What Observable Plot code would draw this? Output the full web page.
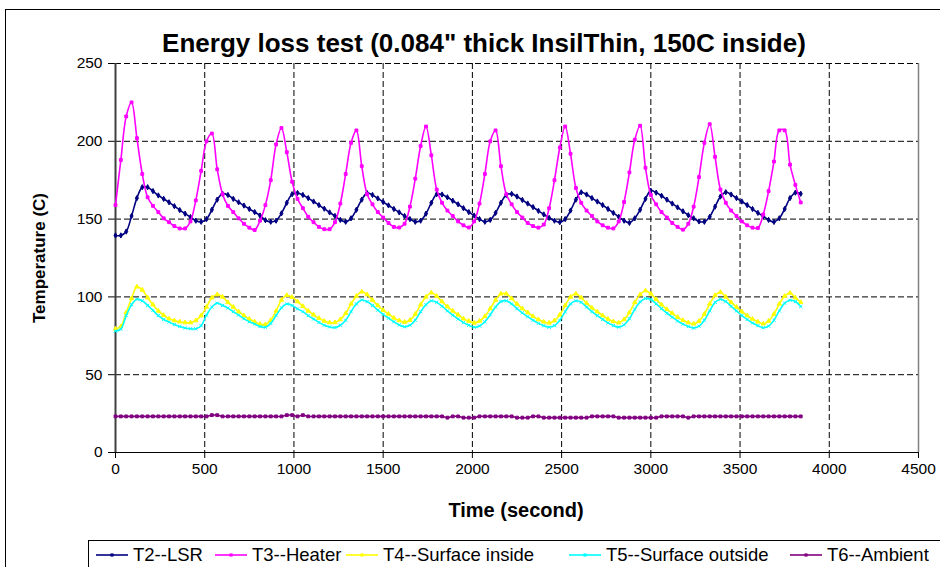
<!DOCTYPE html>
<html><head><meta charset="utf-8">
<script src="https://cdn.jsdelivr.net/npm/d3@7"></script>
<script src="https://cdn.jsdelivr.net/npm/@observablehq/plot@0.6"></script>
<style>
body{margin:0;background:#fff;font-family:"Liberation Sans",Arial,sans-serif;}
#wrap{position:relative;width:940px;height:567px;overflow:hidden;background:#fff;}
#frame{position:absolute;left:5px;top:9px;width:960px;height:600px;border:1px solid #000;}
#title{position:absolute;top:28px;left:14px;width:940px;text-align:center;font-weight:bold;font-size:26px;color:#000;white-space:nowrap;}
#ylab{position:absolute;left:40px;top:258px;transform:translate(-50%,-50%) rotate(-90deg);font-weight:bold;font-size:17px;white-space:nowrap;}
#xlab{position:absolute;left:516px;top:510px;transform:translate(-50%,-50%);font-weight:bold;font-size:20px;white-space:nowrap;}
#chart{position:absolute;left:0;top:0;}
#legend{position:absolute;left:88px;top:540px;width:900px;height:40px;border:1px solid #000;background:#fff;}
.item{position:absolute;top:3px;display:flex;align-items:center;font-size:18.5px;white-space:nowrap;}
.item svg{margin-right:5px;}
</style>
</head><body>
<div id="wrap">
  <div id="frame"></div>
  <div id="chart"></div>
  <div id="title"></div>
  <div id="ylab">Temperature (C)</div>
  <div id="xlab">Time (second)</div>
  <div id="legend"></div>
</div>
<script>
const titleText = "Energy loss test (0.084\" thick InsilThin, 150C inside)";
const seriesNames = ["T2--LSR", "T3--Heater", "T4--Surface inside", "T5--Surface outside", "T6--Ambient"];
const seriesColors = ["#000080", "#FF00FF", "#FFFF00", "#00FFFF", "#800080"];
const seriesSymbols = ["diamond", "square", "triangle", "times", "square"];
const xTicks = [0, 500, 1000, 1500, 2000, 2500, 3000, 3500, 4000, 4500];
const yTicks = [0, 50, 100, 150, 200, 250];
// sample times (s), every 30 s from 0 to 3840
const time = d3.range(0, 3841, 30);

const t2 = [
  139.5,139.5,142,152,163.5,170.5,170.5,168,165.2,163,
  160.8,158.3,155.8,153.5,151.3,149,148.3,150,156,162.5,
  166.3,165.5,163,160.8,158.7,156.5,154.5,152.3,149.3,148.3,
  149,153.7,160.5,166,166.8,165.5,163.5,161.3,159,156.7,
  154.3,152,149.5,148.3,150.5,156,162.5,166.7,165.5,163.3,
  161,158.8,156.5,154.3,152,150,148.3,149,153.5,160.5,
  166,165.8,164,161.8,159.5,157,154.5,152.3,150,148.3,
  149.5,154,160.5,165.5,166.2,164.5,162.3,160,157.7,155.3,
  153,150.8,149,148,150,155.5,162.5,167.2,165.8,163.5,
  161.3,159,156.5,154,151.5,149,147.6,150.5,156,163,
  168.3,167,165,162.5,160,157.5,155,152.5,150.5,148.5,
  148.3,151.5,158,164.5,167.3,165.8,163.5,161.3,159,156.5,
  154,151.8,149.5,148.2,150.5,156.5,163.5,167,166.3
];
const t3 = [
  159,188,216,225,202,179,164,158.5,154.5,150.5,
  148,145.5,144,144,148.5,162,181,200,205,182,
  166,158.5,154.5,150.5,147,144.5,143,149,159,175,
  198,208.5,193,174,163,157,151.5,148,145,143.5,
  143.5,148,160,179,199,207,184,166,159.5,154.5,
  151,147.5,145,144.6,147,158,176,197,209.5,191,
  169,160.5,155.5,152,148.5,146,144.6,148.5,160,179,
  200,207,184,166,159.5,154.5,151,147.5,145.5,144.5,
  146.5,157,175,196,209.5,192,170,160.5,155.5,152,
  148.5,146,144.5,144,148.5,161,180,201,210,183,
  165.5,159.5,154.5,151,147.5,145,143.2,147,158,177,
  199,211,190,169,160.5,155.5,152,148.5,146,144.5,
  144.3,153,168,187,207,207,185,172,160.7
];
const t4 = [
  79.5,81,90,99,106.5,104.5,99.5,95,91,88.2,
  86,84.8,84,83.5,83.5,84.8,88,93.5,99.5,101.5,
  100,96.5,93.5,90.5,88,85.8,84,82.5,82.3,85,
  91,98,101,99.8,97,94,91,88.5,86.3,84.5,
  83.5,83.6,85.5,89.5,95.5,100.5,103.3,101.5,98,94.5,
  91.5,89,86.5,84.8,83.8,85,89,95,100,102.7,
  100.5,97,93.8,91,88.5,86,84.5,83.3,84.5,87.5,
  92.5,98,102,102,99,95.5,92.5,90,87.5,85.5,
  84,83.3,84.8,88.5,94.5,100,102,99.5,96,93,
  90.5,88,85.8,84.2,83.4,85.5,90,96.5,101.5,104,
  102,98.5,95,92,89.5,87,85,83.5,82.7,84.5,
  89,95.5,101,103,100,96.5,93.5,90.5,88,85.8,
  84,82.7,84.5,89,95.5,100.5,102.5,99.5,96.6
];
const t5 = [
  78,79.3,88,95,98.5,97.5,94.5,91.3,88,85.5,
  83.8,82.3,81,80,79.5,79.5,81.5,88.3,93.5,96,
  94.5,92.8,90.5,88.3,86,84,82.6,81,80.5,83,
  88,93,95.5,94.5,92.3,90.5,88,85.8,83.6,81.8,
  80.7,80.3,81.8,85,90.5,95.5,98,97,94.5,91.5,
  88.8,86.3,84,82,80.8,81.8,85,90.5,95,97.5,
  96.5,94,91,88.3,85.8,83.5,81.8,80.5,81.3,84,
  88.5,93.5,97,97.5,95.5,92.5,89.8,87.3,85,83,
  81.5,80.5,81.5,85,90.5,95.5,97.5,96.5,93.5,90.5,
  88,85.5,83.3,81.6,80.6,82,86,92,96.8,99,
  98.3,95.5,92.5,89.5,87,84.5,82.5,81,80,81.2,
  85,91,96.5,98.5,97,94,91,88,85.5,83.2,
  81.5,80.2,81.2,85,91,96,97.8,97,93.8
];
const t6 = [
  23.2,23.2,23.2,23.2,23.2,23.2,23.2,23.2,23.2,23.2,
  23.2,23.2,23.2,23.2,23.2,23.2,23.2,23.2,24,24,
  23.2,23.2,23.2,23.2,23.2,23.2,23.2,23.2,23.2,23.2,
  23.2,23.2,24,24,23.2,24,23.2,23.2,23.2,23.2,
  23.2,23.2,23.2,23.2,23.2,23.2,23.2,23.2,23.2,23.2,
  23.2,23.2,23.2,23.2,23.2,23.2,23.2,23.2,23.2,23.2,
  23.2,23.2,22.4,23.2,23.2,22.4,22.4,22.4,23.2,23.2,
  23.2,23.2,23.2,23.2,23.2,22.4,22.4,22.4,23.2,23.2,
  22.4,22.4,22.4,22.4,22.4,22.4,22.4,22.4,22.4,23.2,
  23.2,23.2,23.2,23.2,22.4,22.4,22.4,22.4,22.4,22.4,
  22.4,22.4,23.2,23.2,23.2,23.2,23.2,22.4,23.2,23.2,
  23.2,23.2,23.2,23.2,23.2,23.2,23.2,23.2,23.2,23.2,
  23.2,23.2,23.2,23.2,23.2,23.2,23.2,23.2,23.2
];
const seriesValues = [t2, t3, t4, t5, t6];

const data = [];
seriesValues.forEach((vals, s) => {
  vals.forEach((v, i) => data.push({series: seriesNames[s], t: time[i], v}));
});

document.getElementById("title").textContent = titleText;

const dash = "6,3";
const marks = [
  Plot.ruleY(yTicks.filter(d => d > 0), {stroke: "#000", strokeDasharray: dash, strokeWidth: 1}),
  Plot.ruleX(xTicks.filter(d => d > 0 && d < 4500), {stroke: "#000", strokeDasharray: dash, strokeWidth: 1}),
  Plot.ruleX([4500], {stroke: "#808080", strokeWidth: 1.5}),
  Plot.ruleY([0], {stroke: "#000", strokeWidth: 1.2}),
  Plot.ruleX([0], {stroke: "#404040", strokeWidth: 2})
];
seriesNames.forEach((name, s) => {
  const d = data.filter(r => r.series === name);
  marks.push(Plot.line(d, {x: "t", y: "v", stroke: seriesColors[s], strokeWidth: 1.6, curve: "catmull-rom"}));
  marks.push(Plot.dot(d, {x: "t", y: "v", r: 1.6, symbol: seriesSymbols[s], fill: seriesColors[s], stroke: seriesColors[s], strokeWidth: 1}));
});

const chart = Plot.plot({
  width: 940,
  height: 540,
  marginLeft: 115,
  marginRight: 22,
  marginTop: 63,
  marginBottom: 88,
  style: {fontFamily: "'Liberation Sans', Arial, sans-serif", fontSize: "15.5px", color: "#000", background: "transparent"},
  x: {domain: [0, 4500], ticks: xTicks, tickSize: 6, tickPadding: 4, label: null, tickFormat: d => String(d)},
  y: {domain: [0, 250], ticks: yTicks, tickSize: 7, tickPadding: 6, label: null, tickFormat: d => String(d)},
  marks
});
document.getElementById("chart").appendChild(chart);

// legend
const legendX = [7, 126, 257, 480, 701];
const legend = document.getElementById("legend");
seriesNames.forEach((name, s) => {
  const item = document.createElement("div");
  item.className = "item";
  item.style.left = legendX[s] + "px";
  const sym = d3.create("svg").attr("width", 32).attr("height", 12);
  sym.append("line").attr("x1", 0).attr("x2", 32).attr("y1", 6).attr("y2", 6)
    .attr("stroke", seriesColors[s]).attr("stroke-width", 1.6);
  sym.append("path").attr("d", d3.symbol(d3.symbolSquare, 10)()).attr("transform", "translate(16,6)")
    .attr("fill", seriesColors[s]);
  item.appendChild(sym.node());
  const label = document.createElement("span");
  label.textContent = name;
  item.appendChild(label);
  legend.appendChild(item);
});
</script>
</body></html>
